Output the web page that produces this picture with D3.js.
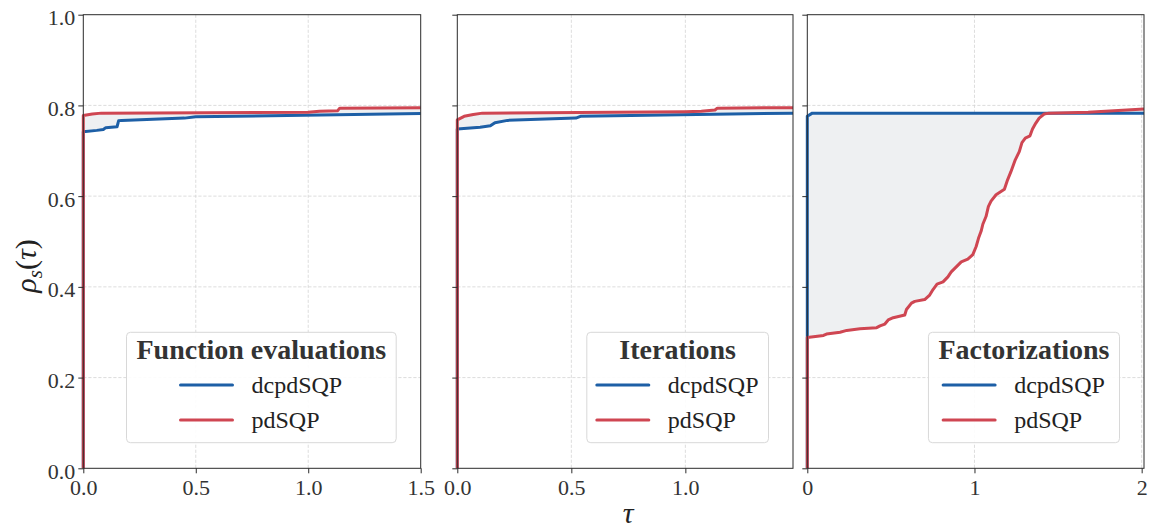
<!DOCTYPE html>
<meta charset="utf-8">
<style>

body {
  margin: 0;
  background: #fff;
}

svg {
  font-family: "Liberation Serif", "DejaVu Serif", serif;
}

.grid line {
  stroke: #d4d4d4;
  stroke-width: 0.8;
  stroke-dasharray: 3.2,1.8;
}

.frame {
  fill: none;
  stroke: #2b2b2b;
  stroke-width: 1;
}

.axis path {
  display: none;
}

.axis line {
  stroke: #2b2b2b;
}

.gap {
  fill: #eef0f2;
  stroke: none;
}

.curve {
  fill: none;
  stroke-width: 3;
  stroke-linejoin: round;
}

.legend rect {
  fill: #fff;
  fill-opacity: 0.9;
  stroke: #d8d8d8;
  stroke-width: 1;
}

.legend .title {
  font-weight: bold;
  font-size: 28px;
  fill: #333;
}

.legend .label {
  font-size: 24px;
  fill: #222;
}

</style>
<body>
<script src="https://d3js.org/d3.v7.min.js"></script>
<script>

var solvers = ["dcpdSQP", "pdSQP"],
    colors = ["#1d5fa6", "#cf4652"];

var yTicks = [0, 0.2, 0.4, 0.6, 0.8, 1.0];

// Function evaluations
var fevTauDc = [0, 0, 0.06, 0.089, 0.10, 0.15, 0.157, 0.17, 0.45, 0.50, 1.5];
var fevRhoDc = [0, 0.742, 0.745, 0.747, 0.751, 0.753, 0.766, 0.767, 0.772, 0.775, 0.782];
var fevTauPd = [0, 0, 0.04, 0.08, 1.0, 1.05, 1.13, 1.14, 1.5];
var fevRhoPd = [0, 0.778, 0.781, 0.783, 0.785, 0.787, 0.788, 0.794, 0.795];

// Iterations
var itTauDc = [0, 0, 0.10, 0.145, 0.165, 0.22, 0.52, 0.54, 1.472];
var itRhoDc = [0, 0.748, 0.752, 0.755, 0.762, 0.767, 0.772, 0.776, 0.783];
var itTauPd = [0, 0, 0.03, 0.07, 0.11, 1.0, 1.07, 1.13, 1.14, 1.472];
var itRhoPd = [0, 0.768, 0.776, 0.780, 0.783, 0.786, 0.787, 0.790, 0.794, 0.795];

// Factorizations
var facTauDc = [0, 0, 0.03, 2.014];
var facRhoDc = [0, 0.776, 0.783, 0.783];
var facTauPd = [0, 0, 0.097, 0.115, 0.196, 0.236, 0.315, 0.415, 0.435, 0.464, 0.484,
  0.514, 0.583, 0.593, 0.623, 0.643, 0.702, 0.732, 0.752, 0.776, 0.812, 0.841,
  0.861, 0.891, 0.921, 0.960, 0.990, 1.010, 1.024, 1.040, 1.050, 1.069, 1.083,
  1.099, 1.129, 1.179, 1.198, 1.218, 1.244, 1.268, 1.284, 1.304, 1.332, 1.347,
  1.367, 1.387, 1.417, 1.446, 1.68, 2.014];
var facRhoPd = [0, 0.2885, 0.293, 0.296, 0.300, 0.304, 0.3075, 0.310, 0.314, 0.318, 0.327,
  0.332, 0.338, 0.350, 0.364, 0.368, 0.372, 0.382, 0.394, 0.406, 0.411, 0.422,
  0.433, 0.444, 0.455, 0.461, 0.471, 0.489, 0.507, 0.523, 0.538, 0.555, 0.577,
  0.589, 0.603, 0.615, 0.636, 0.654, 0.680, 0.698, 0.718, 0.728, 0.733, 0.748,
  0.761, 0.772, 0.781, 0.783, 0.785, 0.792];

var yTop = 14.7,
    yBottom = 468.3;

function zip(t, r) {
  return t.map(function(d, i) { return [d, r[i]]; });
}

var panels = [
  {left: 83.3, right: 420.7, xMax: 1.5, xTicks: [0, 0.5, 1.0, 1.5], fmt: ".1f",
   title: "Function evaluations", dc: zip(fevTauDc, fevRhoDc), pd: zip(fevTauPd, fevRhoPd)},
  {left: 457.3, right: 793, xMax: 1.472, xTicks: [0, 0.5, 1.0], fmt: ".1f",
   title: "Iterations", dc: zip(itTauDc, itRhoDc), pd: zip(itTauPd, itRhoPd)},
  {left: 807.3, right: 1144, xMax: 2.014, xTicks: [0, 1, 2], fmt: "d",
   title: "Factorizations", dc: zip(facTauDc, facRhoDc), pd: zip(facTauPd, facRhoPd)}
];

var svg = d3.select("body").append("svg")
    .attr("width", 1151)
    .attr("height", 531);

var y = d3.scaleLinear()
    .domain([0, 1])
    .range([yBottom, yTop]);

function tickText(sel) {
  sel.selectAll("text")
      .style("font-family", "'Liberation Serif', serif")
      .style("font-size", "22px")
      .style("fill", "#333");
}

panels.forEach(function(p, k) {
  var x = d3.scaleLinear()
      .domain([0, p.xMax])
      .range([p.left, p.right]);

  var g = svg.append("g");

  // grid
  var grid = g.append("g").attr("class", "grid");
  grid.selectAll(".gx")
      .data(p.xTicks.filter(function(d) { return d > 0 && d < p.xMax - 0.001; }))
    .enter().append("line")
      .attr("x1", function(d) { return x(d); })
      .attr("x2", function(d) { return x(d); })
      .attr("y1", yTop)
      .attr("y2", yBottom);
  grid.selectAll(".gy")
      .data(yTicks.filter(function(d) { return d > 0 && d < 1; }))
    .enter().append("line")
      .attr("x1", p.left)
      .attr("x2", p.right)
      .attr("y1", function(d) { return y(d); })
      .attr("y2", function(d) { return y(d); });

  var line = d3.line()
      .x(function(d) { return x(d[0]); })
      .y(function(d) { return y(d[1]); });

  // shaded area between the two profiles
  g.append("path")
      .attr("class", "gap")
      .attr("d", line(p.pd.concat(p.dc.slice().reverse())) + "Z");

  g.append("path")
      .attr("class", "curve")
      .attr("stroke", colors[0])
      .attr("d", line(p.dc));

  g.append("path")
      .attr("class", "curve")
      .attr("stroke", colors[1])
      .attr("d", line(p.pd));

  g.append("rect")
      .attr("class", "frame")
      .attr("x", p.left)
      .attr("y", yTop)
      .attr("width", p.right - p.left)
      .attr("height", yBottom - yTop);

  var xAxis = d3.axisBottom(x)
      .tickValues(p.xTicks)
      .tickSize(5)
      .tickPadding(6)
      .tickFormat(d3.format(p.fmt));

  g.append("g")
      .attr("class", "axis")
      .attr("transform", "translate(0," + yBottom + ")")
      .call(xAxis)
      .call(tickText);

  var yAxis = d3.axisLeft(y)
      .tickValues(yTicks)
      .tickSize(5)
      .tickPadding(3)
      .tickFormat(k === 0 ? d3.format(".1f") : function() { return ""; });

  g.append("g")
      .attr("class", "axis")
      .attr("transform", "translate(" + p.left + ",0)")
      .call(yAxis)
      .call(tickText)
    .selectAll("text")
      .attr("dy", "0.45em");

  // legend
  var leg = g.append("g").attr("class", "legend");
  var box = leg.append("rect")
      .attr("rx", 4)
      .attr("y", 332.3)
      .attr("height", 110.4);
  var title = leg.append("text")
      .attr("class", "title")
      .attr("text-anchor", "middle")
      .attr("y", 359)
      .text(p.title);
  var labels = solvers.map(function(s, i) {
    return leg.append("text")
        .attr("class", "label")
        .attr("y", 385 + i * 35)
        .attr("dy", "0.33em")
        .text(s);
  });
  var tw = title.node().getComputedTextLength(),
      lw = d3.max(labels, function(t) { return t.node().getComputedTextLength(); }),
      ew = 52 + 19 + lw,
      w = Math.max(tw, ew) + 20,
      bx = p.right - 24.5 - w,
      ex = bx + (w - ew) / 2;
  box.attr("x", bx).attr("width", w);
  title.attr("x", bx + w / 2);
  labels.forEach(function(t, i) {
    t.attr("x", ex + 71);
    leg.append("line")
        .attr("x1", ex)
        .attr("x2", ex + 52)
        .attr("y1", 385 + i * 35)
        .attr("y2", 385 + i * 35)
        .attr("stroke", colors[i])
        .attr("stroke-width", 3)
        .attr("stroke-linecap", "round");
  });
});

// axis labels
var yl = svg.append("text")
    .attr("transform", "translate(36,266) rotate(-90)")
    .attr("text-anchor", "middle")
    .attr("font-size", 30)
    .attr("fill", "#222");
yl.append("tspan").attr("font-style", "italic").text("ρ");
yl.append("tspan").attr("font-style", "italic").attr("font-size", 21).attr("dy", 6).text("s");
yl.append("tspan").attr("dy", -6).text("(");
yl.append("tspan").attr("font-style", "italic").text("τ");
yl.append("tspan").text(")");

svg.append("text")
    .attr("x", 628)
    .attr("y", 523)
    .attr("text-anchor", "middle")
    .attr("font-size", 30)
    .attr("font-style", "italic")
    .attr("fill", "#222")
    .text("τ");

</script>
